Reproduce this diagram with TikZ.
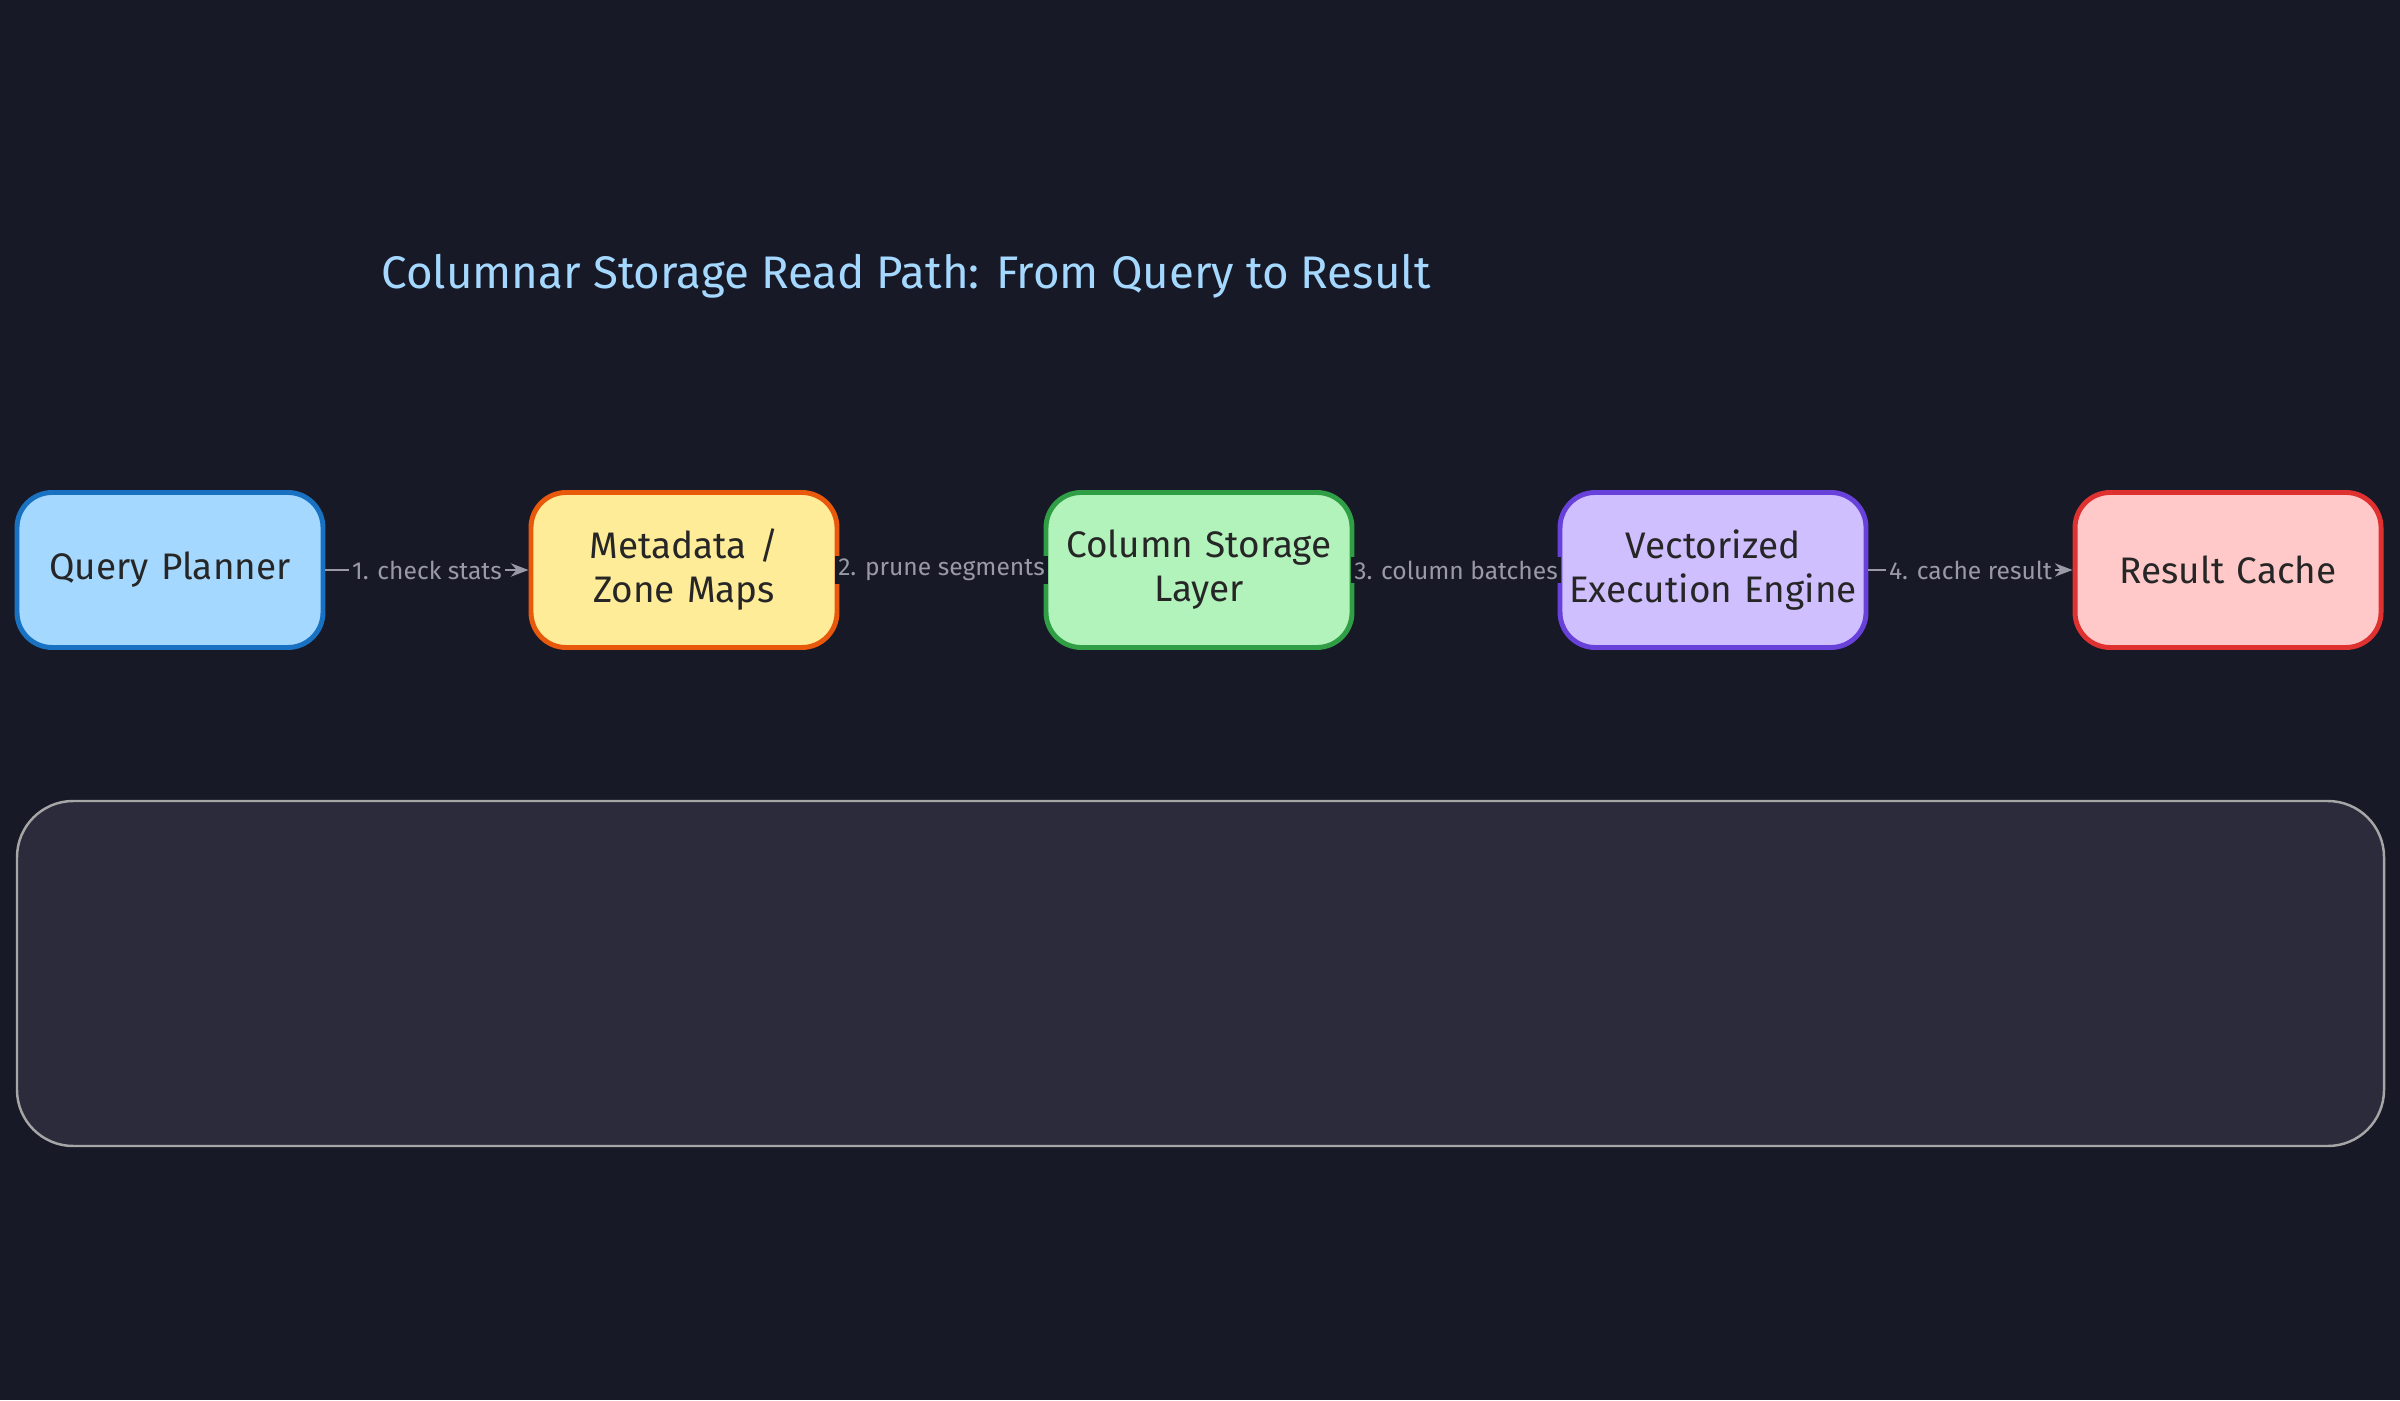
\documentclass[tikz,border=0pt]{standalone}
\usepackage{fontspec}
\setmainfont{Fira Sans}
\usetikzlibrary{positioning,arrows.meta}
\definecolor{bg}{HTML}{181926}
\definecolor{panel}{HTML}{2B2B3B}
\definecolor{edgegray}{HTML}{9A9AA6}
\definecolor{titleblue}{HTML}{A5D8FF}
\definecolor{plannerline}{HTML}{1971C2}
\definecolor{metafill}{HTML}{FFEC99}
\definecolor{metaline}{HTML}{E8590C}
\definecolor{storefill}{HTML}{B2F2BB}
\definecolor{storeline}{HTML}{2F9E44}
\definecolor{enginefill}{HTML}{D0BFFF}
\definecolor{engineline}{HTML}{6741D9}
\definecolor{cachefill}{HTML}{FFC9C9}
\definecolor{cacheline}{HTML}{E03131}
\tikzset{
  stage/.style={draw, line width=1.4pt, rounded corners=10pt, minimum width=3.06cm,
    text width=2.9cm, inner xsep=0pt,
    minimum height=1.55cm, align=center, font=\fontsize{10.5}{12.5}\selectfont, text=black!85},
  flow/.style={draw=edgegray, line width=0.8pt, -{Stealth[length=5pt]}},
  flowlabel/.style={text=edgegray, fill=bg, font=\fontsize{7}{8}\selectfont, inner sep=1pt}
}
\begin{document}
\begin{tikzpicture}
  % background
  \fill [bg] (0, 0) rectangle (24, 14);
  \useasboundingbox (0, 0) rectangle (24, 14);
  % title
  \node [text=titleblue, font=\fontsize{13}{15}\selectfont] (title) at (9.06, 11.24)
    {Columnar Storage Read Path: From Query to Result};
  % stages
  \node [stage, fill=titleblue, draw=plannerline] (planner) at (1.70, 8.30) {Query Planner};
  \node [stage, fill=metafill, draw=metaline] (meta) at (6.84, 8.30) {Metadata /\\Zone Maps};
  \node [stage, fill=storefill, draw=storeline] (storage) at (11.99, 8.30) {Column Storage\\Layer};
  \node [stage, fill=enginefill, draw=engineline] (engine) at (17.13, 8.30) {Vectorized\\Execution Engine};
  \node [stage, fill=cachefill, draw=cacheline] (cache) at (22.28, 8.30) {Result Cache};
  % connectors
  \draw [flow] (planner) -- node [flowlabel] {1. check stats} (meta);
  \draw [flow] (meta) -- node [flowlabel] {2. prune segments} (storage);
  \draw [flow] (storage) -- node [flowlabel] {3. column batches} (engine);
  \draw [flow] (engine) -- node [flowlabel] {4. cache result} (cache);
  % empty panel
  \draw [fill=panel, draw=gray!70, line width=0.7pt, rounded corners=16pt]
    (0.17, 2.54) rectangle (23.84, 5.99);
\end{tikzpicture}
\end{document}
